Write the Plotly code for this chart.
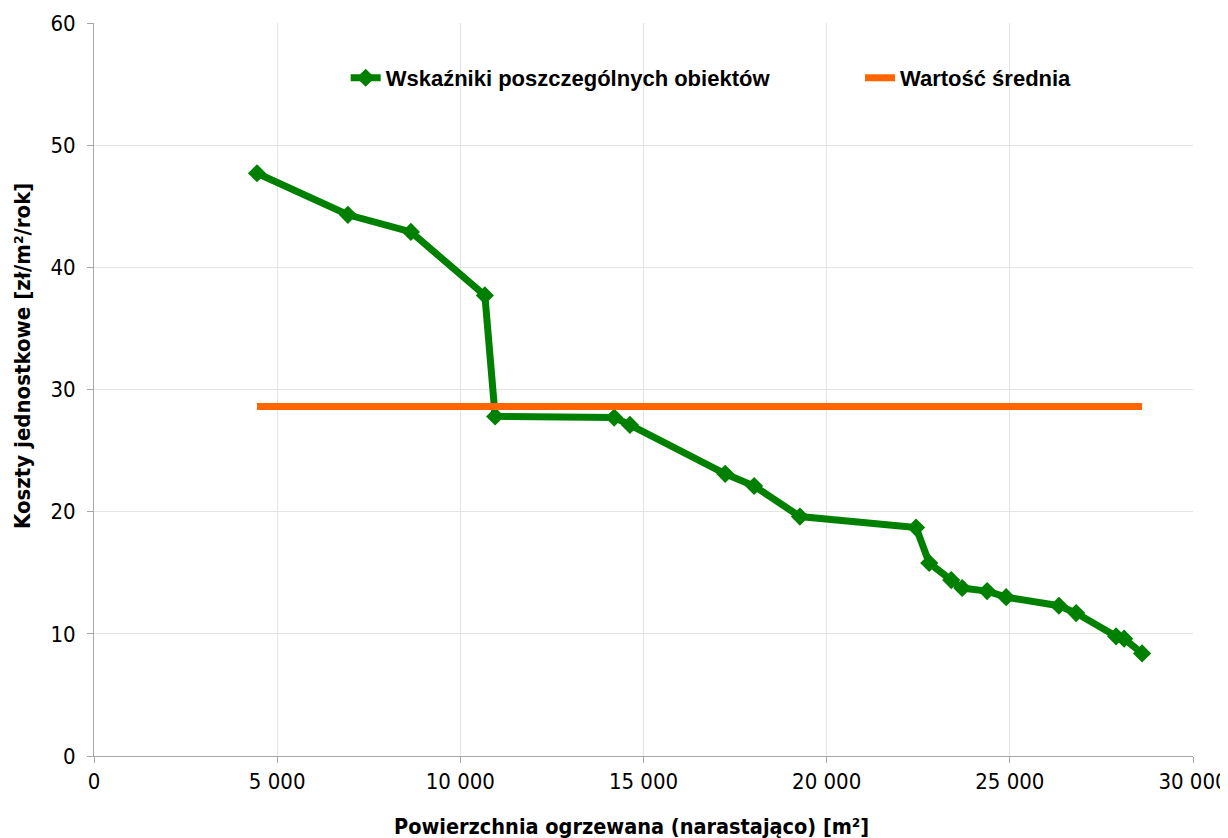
import plotly.graph_objects as go

area = [4450, 6930, 8650, 10670, 10950, 14200, 14630, 17230, 18020, 19270,
        22440, 22800, 23400, 23700, 24380, 24900, 26340, 26810, 27900, 28120, 28610]
cost = [47.7, 44.3, 42.9, 37.7, 27.8, 27.7, 27.1, 23.1, 22.1, 19.6,
        18.7, 15.8, 14.4, 13.75, 13.5, 13.0, 12.3, 11.7, 9.8, 9.6, 8.4]
mean_x = [4450, 28610]
mean_y = [28.6, 28.6]
xticks = [0, 5000, 10000, 15000, 20000, 25000, 30000]
xticklabels = ["0", "5 000", "10 000", "15 000", "20 000", "25 000", "30 000"]
yticks = [0, 10, 20, 30, 40, 50, 60]
x_title = "Powierzchnia ogrzewana (narastająco) [m²]"
y_title = "Koszty jednostkowe [zł/m²/rok]"

fig = go.Figure()
fig.add_trace(go.Scatter(
    x=area, y=cost, mode="lines+markers",
    name="<b>Wskaźniki poszczególnych obiektów</b>",
    line=dict(color="#008000", width=7),
    marker=dict(symbol="diamond", size=14, color="#008000"),
    legend="legend",
))
fig.add_trace(go.Scatter(
    x=mean_x, y=mean_y, mode="lines",
    name="<b>Wartość średnia</b>",
    line=dict(color="#FF6600", width=7),
    legend="legend2",
))

tick_font = dict(family="DejaVu Sans Condensed", size=22, color="#000000")
axis_common = dict(
    showgrid=True, gridcolor="#E3E3E3", gridwidth=1,
    showline=True, linecolor="#A6A6A6", linewidth=1,
    ticks="outside", ticklen=6, tickcolor="#A6A6A6",
    tickfont=tick_font, zeroline=False, automargin=False,
)
fig.update_xaxes(range=[0, 30000], tickvals=xticks, ticktext=xticklabels, **axis_common)
fig.update_yaxes(range=[0, 60], tickvals=yticks, ticklabelstandoff=7, **axis_common)

fig.add_annotation(text="<b>" + x_title + "</b>", xref="paper", yref="paper",
                   x=0.4895, y=0, yshift=-70, xanchor="center", yanchor="middle",
                   showarrow=False,
                   font=dict(family="DejaVu Sans Condensed", size=21.5, color="#000000"))
fig.add_annotation(text="<b>" + y_title + "</b>", xref="paper", yref="paper",
                   x=0, xshift=-72, y=0.5457, xanchor="center", yanchor="middle",
                   textangle=-90, showarrow=False,
                   font=dict(family="DejaVu Sans Condensed", size=22, color="#000000"))

legend_font = dict(family="Liberation Sans", size=22, color="#000000")
fig.update_layout(
    width=1220, height=830,
    margin=dict(l=86, r=35, t=15, b=82),
    paper_bgcolor="white", plot_bgcolor="white",
    showlegend=True,
    legend=dict(orientation="h", x=0.229, y=0.925, xanchor="left", yanchor="middle",
                font=legend_font, bgcolor="rgba(0,0,0,0)"),
    legend2=dict(orientation="h", x=0.697, y=0.925, xanchor="left", yanchor="middle",
                 font=legend_font, bgcolor="rgba(0,0,0,0)"),
)

fig.write_html("out.html")
